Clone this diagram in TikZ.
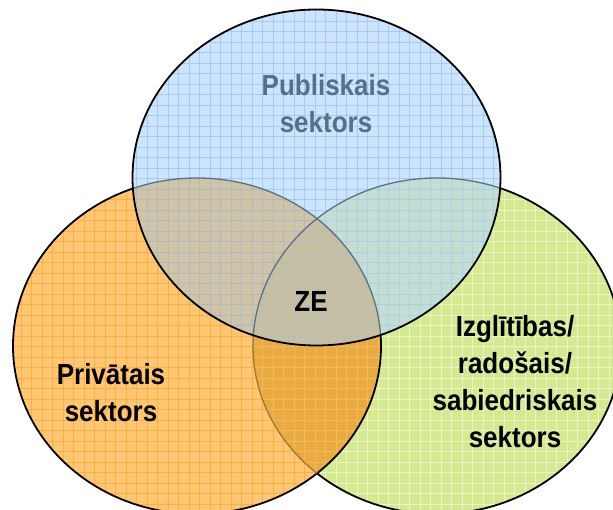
\documentclass[tikz,border=0pt]{standalone}
\usepackage{fontspec}
\setmainfont{Liberation Sans}
\usepackage{tikz}
\usetikzlibrary{positioning}

\definecolor{pubfill}{HTML}{CCE4FD}
\definecolor{privfill}{HTML}{FFC674}
\definecolor{izglfill}{HTML}{D5EA90}
\definecolor{pubpriv}{HTML}{CFC4A8}
\definecolor{pubizgl}{HTML}{C4DED2}
\definecolor{privizgl}{HTML}{E8AA42}
\definecolor{allfill}{HTML}{C8BFA0}
\definecolor{pubgrid}{HTML}{8EC2F2}
\definecolor{privgrid}{HTML}{FFA522}
\definecolor{izglgrid}{HTML}{F4FADF}
\definecolor{fadeline}{HTML}{5E7086}
\definecolor{brownline}{HTML}{9A7A3A}
\definecolor{pubtext}{HTML}{56708A}

\begin{document}
\begin{tikzpicture}[x=1pt,y=-1pt,
  vennsize/.style={x radius=184pt,y radius=168pt},
  set line/.style={draw=black,line width=1.8pt},
  faded line/.style={draw=fadeline,line width=1.3pt},
  grid line/.style={line width=0.5pt,opacity=0.65},
  set label/.style={font=\fontsize{26}{33}\selectfont\bfseries,align=center,
    text=black,yscale=1.12,transform shape}]
  \useasboundingbox (0,0) rectangle (613,510);
  \coordinate (pub) at (316.5,177.5);
  \coordinate (priv) at (197,346);
  \coordinate (izgl) at (437,346);
  \coordinate (pubpos) at (326,104);
  \coordinate (zepos) at (311,301);
  \coordinate (privpos) at (111,393);
  \coordinate (izglpos) at (515,382);

  % base fills
  \fill[izglfill] (izgl) ellipse [vennsize];
  \fill[privfill] (priv) ellipse [vennsize];
  \fill[pubfill] (pub) ellipse [vennsize];
  % overlaps
  \begin{scope}
    \clip (izgl) ellipse [vennsize];
    \fill[pubizgl] (pub) ellipse [vennsize];
  \end{scope}
  \begin{scope}
    \clip (priv) ellipse [vennsize];
    \fill[privizgl] (izgl) ellipse [vennsize];
    \fill[pubpriv] (pub) ellipse [vennsize];
    \clip (izgl) ellipse [vennsize];
    \fill[allfill] (pub) ellipse [vennsize];
  \end{scope}

  % grid texture
  \foreach \s/\c in {izgl/izglgrid, priv/privgrid, pub/pubgrid}{
    \begin{scope}
      \clip (\s) ellipse [vennsize];
      \foreach \g in {0,10.5,...,620}{
        \draw[grid line,\c] (\g,0) -- (\g,510);
        \draw[grid line,\c] (0,\g) -- (613,\g);}
    \end{scope}}

  % outlines
  \begin{scope}
    \clip (0,0) -- (613,0) -- (613,510) -- (0,510) -- cycle (pub) ellipse [vennsize];
    \draw[set line] (priv) ellipse [vennsize];
    \begin{scope}
      \clip (0,0) -- (613,0) -- (613,510) -- (0,510) -- cycle (priv) ellipse [vennsize];
      \draw[set line] (izgl) ellipse [vennsize];
    \end{scope}
    \begin{scope}
      \clip (priv) ellipse [vennsize];
      \draw[faded line,draw=brownline] (izgl) ellipse [vennsize];
    \end{scope}
  \end{scope}
  \begin{scope}
    \clip (pub) ellipse [vennsize];
    \draw[faded line] (izgl) ellipse [vennsize];
    \draw[faded line] (priv) ellipse [vennsize];
  \end{scope}
  \draw[set line] (pub) ellipse [vennsize];

  % labels
  \node[set label,text=pubtext] (publbl) at (pubpos) {Publiskais\\sektors};
  \node[set label] (zelbl) at (zepos) {ZE};
  \node[set label] (privlbl) at (privpos) {Privātais\\sektors};
  \node[set label] (izgllbl) at (izglpos) {Izglītības/\\radošais/\\sabiedriskais\\sektors};
\end{tikzpicture}
\end{document}
